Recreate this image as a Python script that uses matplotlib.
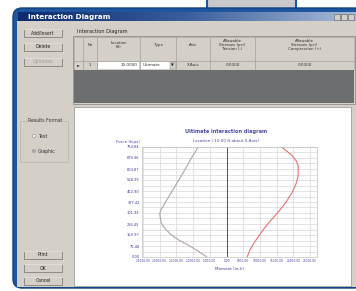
import matplotlib.pyplot as plt
import matplotlib.patches as mpatches
import numpy as np

# chart data
force_ticks = [0.00, 75.48, 150.97, 226.45, 301.94, 377.42, 452.90, 528.39, 603.87, 679.36, 754.84]
moment_ticks = [-25000, -20000, -15000, -10000, -5000, 0, 5000, 10000, 15000, 20000, 25000]

neg_moment = [-8500, -10500, -12500, -14000, -15500, -17000, -18500, -19600, -20000, -19800, -19500, -18200, -16500, -14200, -11500, -8800, -6000]
neg_force = [754, 680, 597, 540, 482, 425, 368, 325, 300, 265, 231, 190, 151, 115, 82, 45, 2]

pos_moment = [16500, 19500, 21000, 21500, 21400, 20700, 19500, 17900, 16000, 14200, 12500, 10900, 9500, 8200, 7000, 6200]
pos_force = [754, 700, 655, 620, 551, 495, 437, 380, 322, 275, 231, 185, 139, 95, 48, 2]

# table contents
col_headers = ["", "No", "Location\n(ft)", "Type", "Axis",
               "Allowable\nStresses (psi)\nTension (-)",
               "Allowable\nStresses (psi)\nCompression (+)"]
row_values = ["\u25ba", "1", "10.0000", "Ultimate", "X-Axis", "0.0000", "0.0000"]
col_edges = [74, 83, 97, 140, 176, 210, 255, 354]

W, H = 356, 291
fig = plt.figure(figsize=(W / 100, H / 100), dpi=100)
fig.patch.set_facecolor("white")

# background axes in pixel units
bg = fig.add_axes([0, 0, 1, 1])
bg.set_xlim(0, W)
bg.set_ylim(H, 0)
bg.axis("off")

face = "#d4d0c8"
blue = "#1d55a0"


def rect(x0, y0, x1, y1, fc, ec="none", lw=0.5, z=1):
    bg.add_patch(mpatches.Rectangle((x0, y0), x1 - x0, y1 - y0, facecolor=fc,
                                    edgecolor=ec, linewidth=lw, zorder=z))


def button(x0, y0, x1, y1, label, color="#202020"):
    rect(x0, y0, x1, y1, face, ec="#808080", lw=0.6, z=3)
    bg.plot([x0, x1], [y0 + 0.3, y0 + 0.3], color="white", lw=0.5, zorder=4)
    bg.text((x0 + x1) / 2, (y0 + y1) / 2, label, fontsize=3.3, color=color,
            ha="center", va="center", zorder=5)


# gray tab at top right
rect(207, -2, 296, 10, "#c9c9c9", ec=blue, lw=1.5, z=1)

# blue window frame
bg.add_patch(mpatches.FancyBboxPatch((13, 8), 350, 280,
                                     boxstyle="round,pad=0,rounding_size=9",
                                     facecolor=blue, edgecolor="#0f3f80", lw=1, zorder=1))
# title bar gradient
grad = np.linspace(0, 1, 200).reshape(1, -1)
bg.imshow(grad, extent=[18, 356, 21, 12], cmap=plt.matplotlib.colors.LinearSegmentedColormap.from_list(
    "tb", ["#0c2a6e", "#3a5e9c", "#a8bcd8"]), aspect="auto", zorder=2)
bg.text(28, 16.8, "Interaction Diagram", fontsize=5.2, fontweight="bold", color="white",
        va="center", ha="left", zorder=3)
for bx in (334, 341, 348):
    rect(bx, 13.5, bx + 6, 19.5, face, ec="#606060", lw=0.4, z=3)

# dialog body
rect(17, 21, 356, 287, face, z=2)

# left buttons
button(24, 29, 62, 37, "Add/Insert")
button(24, 43, 62, 51, "Delete")
button(24, 58, 62, 66, "Optimize", color="#a0a0a0")
button(24, 251, 62, 259, "Print")
button(24, 264, 62, 272, "OK")
button(24, 277, 62, 285, "Cancel")

# results format group
rect(20, 121, 68, 162, "none", ec="#b8b4ac", lw=0.5, z=3)
bg.text(28, 121, "Results Format", fontsize=3.3, color="#303030", va="center",
        ha="left", zorder=5, bbox=dict(fc=face, ec="none", pad=0.3))
bg.add_patch(mpatches.Circle((34, 136), 1.6, fc="white", ec="#808080", lw=0.4, zorder=4))
bg.text(38, 136, "Text", fontsize=3.3, color="#303030", va="center", zorder=5)
bg.add_patch(mpatches.Circle((34, 151), 1.6, fc="white", ec="#808080", lw=0.4, zorder=4))
bg.add_patch(mpatches.Circle((34, 151), 0.7, fc="#202020", ec="none", zorder=5))
bg.text(38, 151, "Graphic", fontsize=3.3, color="#303030", va="center", zorder=5)

# table group
bg.text(77, 31.5, "Interaction Diagram", fontsize=3.6, color="#202020", va="center", zorder=5)
rect(73, 36, 355, 104, face, ec="#808080", lw=0.5, z=3)
for i in range(len(col_edges) - 1):
    x0, x1 = col_edges[i], col_edges[i + 1]
    rect(x0, 37, x1, 61, face, ec="#a0a0a0", lw=0.4, z=4)
    bg.text((x0 + x1) / 2, 45, col_headers[i], fontsize=2.8, color="#303030",
            ha="center", va="center", linespacing=1.0, zorder=5)
    rect(x0, 61, x1, 70, face, ec="#a0a0a0", lw=0.4, z=4)
# white cells for editable fields
rect(98, 61.8, 139, 69.2, "white", z=5)
rect(141, 61.8, 170, 69.2, "white", z=5)
rect(170, 62, 175.5, 69, face, ec="#808080", lw=0.3, z=6)
bg.text(172.8, 65.7, "\u25bc", fontsize=2.6, color="#202020", ha="center", va="center", zorder=7)
bg.text(78.5, 65.5, row_values[0], fontsize=2.6, color="#303030", ha="center", va="center", zorder=7)
bg.text(90, 65.5, row_values[1], fontsize=3, color="#303030", ha="center", va="center", zorder=7)
bg.text(137, 65.5, row_values[2], fontsize=3, color="#303030", ha="right", va="center", zorder=7)
bg.text(143, 65.5, row_values[3], fontsize=3, color="#303030", ha="left", va="center", zorder=7)
for i in (4, 5, 6):
    bg.text((col_edges[i] + col_edges[i + 1]) / 2, 65.5, row_values[i], fontsize=3,
            color="#303030", ha="center", va="center", zorder=7)
rect(74, 70, 354, 103, "#6b6f6f", z=4)

# chart panel
rect(74, 107, 351, 286, "white", ec="#909090", lw=0.5, z=3)

# the chart itself
ax = fig.add_axes([141.7 / W, (H - 257) / H, 175 / W, 110 / H])
ax.set_xlim(-25400, 27000)
ax.set_ylim(0, 754.84)
ax.plot(neg_moment, neg_force, color="#b0a4a4", lw=0.8)
ax.plot(pos_moment, pos_force, color="#e87070", lw=0.8)
ax.axvline(0, color="#505050", lw=0.7)

ax.set_yticks(force_ticks)
ax.set_yticklabels(["%.2f" % v for v in force_ticks])
ax.set_xticks(moment_ticks)
ax.set_xticklabels(["%.2f" % v for v in moment_ticks])
ax.set_yticks([(a + b) / 2 for a, b in zip(force_ticks[:-1], force_ticks[1:])], minor=True)
ax.grid(True, which="both", color="#d8d8d8", lw=0.5)
ax.set_axisbelow(True)
ax.tick_params(labelsize=2.6, labelcolor="#3b3b9c", length=0, pad=1.5)
ax.tick_params(axis="x", labelsize=2.1)
ax.tick_params(which="minor", length=0)
for s in ax.spines.values():
    s.set_color("#c0c0c0")
    s.set_linewidth(0.5)
ax.set_xlabel("Moment (in-k)", fontsize=3, color="#3b3b9c", labelpad=2.5)

bg.text(226, 131, "Ultimate interaction diagram", fontsize=3.6, fontweight="bold",
        color="#4a4aa8", ha="center", va="center", zorder=5)
bg.text(226, 140.5, "Location ( 10.00 ft about X-Axis)", fontsize=3, color="#4a4aa8",
        ha="center", va="center", zorder=5)
bg.text(128, 141.5, "Force (kips)", fontsize=3, color="#4a4aa8",
        ha="center", va="center", zorder=5)

fig.savefig("out.png", dpi=100)
